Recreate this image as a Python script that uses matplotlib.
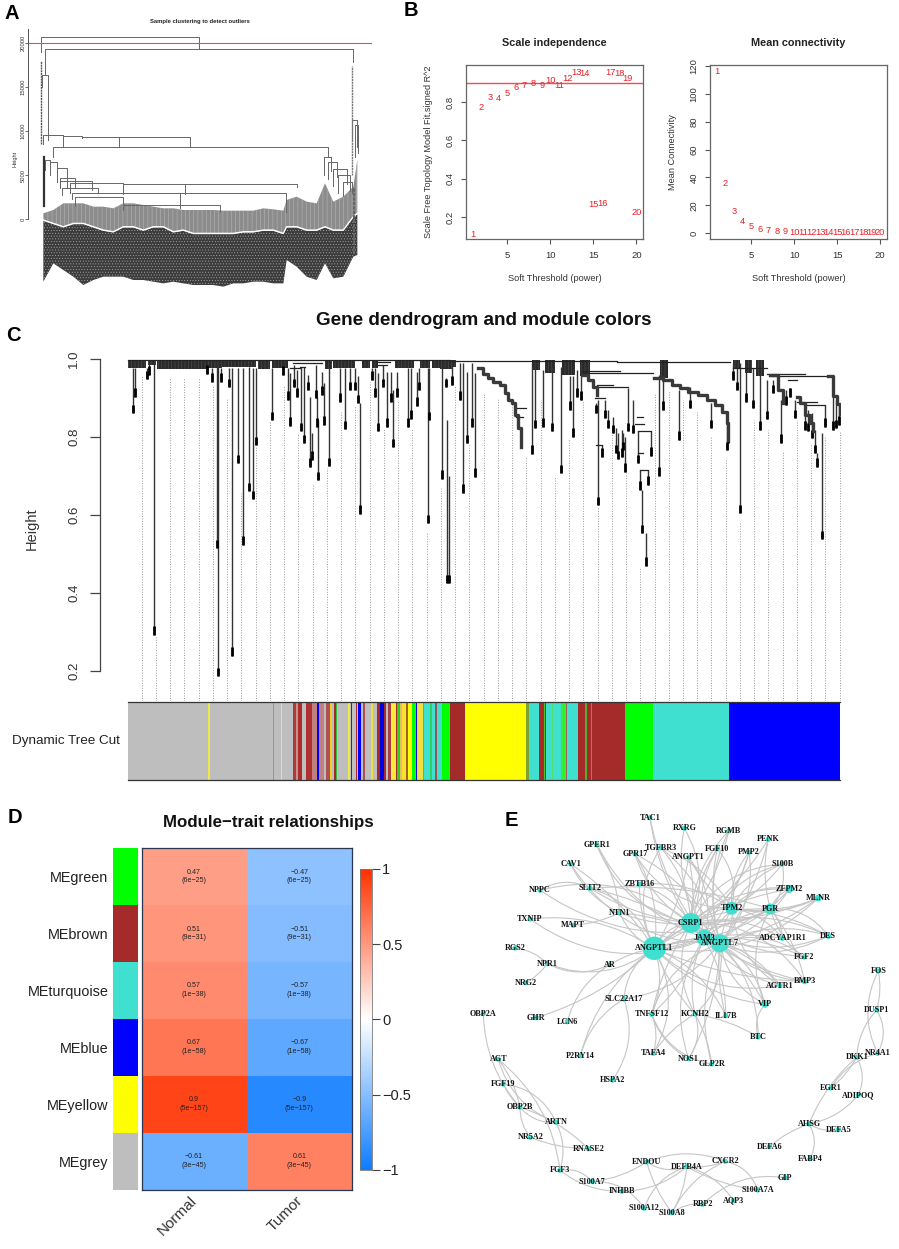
import numpy as np
import matplotlib
matplotlib.use('Agg')
import matplotlib.pyplot as plt
from matplotlib.colors import LinearSegmentedColormap
from matplotlib.cm import ScalarMappable
from matplotlib.colors import Normalize
from matplotlib.patches import FancyArrowPatch

plt.rcParams['font.family'] = ['Liberation Sans', 'DejaVu Sans']
plt.rcParams['hatch.linewidth'] = 0.35

W, H = 899, 1249

# --- A: sample clustering ---
a_merge_x1 = [41, 44.5, 42, 47.5, 43, 63, 82, 119, 53, 324, 45, 50, 57, 60, 60, 70, 123, 185, 62, 72, 180, 75, 123, 352, 355, 328, 333, 338, 343]
a_merge_x2 = [199, 353, 47.5, 63, 63, 82, 119, 190, 328, 331, 50, 57, 67, 75, 92, 123, 185, 297, 98, 180, 286, 123, 220, 357, 358, 337, 347, 350, 352]
a_merge_h = [20680, 19320, 16360, 9545, 9545, 9430, 9320, 9320, 8180, 7045, 6700, 6480, 5800, 4660, 4320, 4090, 4030, 3980, 3520, 2950, 2900, 2500, 1590, 11250, 10700, 6500, 5700, 5000, 4200]
a_merge_bottom1 = [19000, 16360, 15000, 9000, 8500, 9300, 9200, 8200, 7000, 5000, 5600, 5000, 4200, 3500, 3500, 3000, 2800, 2800, 2700, 2300, 1200, 1500, 1000, 9000, 7000, 4500, 3800, 3000, 2600]
a_merge_bottom2 = [19320, 17840, 9545, 8300, 9430, 9320, 9320, 8180, 7045, 5500, 5800, 4600, 3500, 3600, 3300, 4030, 3980, 3600, 3000, 2900, 800, 1590, 800, 8200, 7500, 4800, 4000, 3200, 3000]
a_leaf_x = [130, 160, 190, 220, 250, 280, 310, 340, 370, 400, 430, 460, 490, 520, 550, 580, 610, 640, 670, 700, 730, 760, 790, 820, 850, 860, 890, 920, 950, 975, 1000, 1030, 1060, 1072]
a_grey_top = [640, 630, 610, 610, 610, 620, 620, 625, 610, 610, 615, 620, 625, 625, 630, 630, 630, 630, 632, 632, 632, 632, 625, 628, 632, 600, 590, 605, 610, 550, 605, 590, 560, 480]
a_grey_bottom = [660, 670, 680, 670, 670, 680, 690, 695, 680, 680, 690, 680, 680, 695, 690, 700, 700, 700, 700, 700, 695, 695, 690, 690, 700, 680, 680, 690, 690, 680, 690, 690, 650, 640]
a_dark_bottom = [845, 790, 810, 830, 855, 840, 830, 830, 830, 840, 840, 845, 850, 845, 850, 855, 855, 855, 860, 850, 850, 845, 845, 850, 850, 780, 800, 830, 840, 790, 835, 830, 770, 765]
a_ticks = [0, 5000, 10000, 15000, 20000]

# --- B: soft threshold ---
powers = list(range(1, 21))
sft_r2 = [0.11, 0.77, 0.825, 0.82, 0.845, 0.875, 0.885, 0.895, 0.885, 0.91, 0.885, 0.92, 0.955, 0.95, 0.265, 0.27, 0.955, 0.95, 0.92, 0.225]
mean_k = [116.4, 36, 15.8, 8, 4.7, 2.9, 2, 1.4, 1, 0.7, 0.5, 0.4, 0.3, 0.25, 0.2, 0.15, 0.1, 0.1, 0.1, 0.1]

# --- C: gene dendrogram ---
stem_x = [133.3, 135, 146.7, 149, 154.3, 206.7, 211.7, 216.7, 218.3, 221, 229, 231.7, 238.3, 243, 249.3, 252.7, 256, 271.7, 283.3, 288.3, 290, 294, 296.7, 301, 304.3, 307.7, 310, 311.7, 315.7, 316.7, 318.3, 321.7, 324, 329.3, 340, 345, 350, 355, 358, 360, 371.7, 375, 378.3, 382.7, 386.7, 390.7, 393.3, 396.7, 408.3, 410.7, 416.7, 419.3, 427.7, 429.3, 441.7, 445.7, 447.3, 449.3,
          463.3, 467.3, 460, 475, 471.7, 451.7, 531.7, 535, 542.7, 551.7, 560.7, 573.3, 570, 576.7, 580.7, 598.3, 602, 595.7, 605, 615.7, 618.3, 625, 608.3, 613.3, 621.7, 623.3, 628.3, 633.3, 651, 638.3, 648.3, 640, 641.7, 646, 659.3, 662.7, 679.3, 690, 710.7, 726.7, 728.3, 740, 732.7, 736.7, 746, 752.7, 760, 766.7, 781, 795, 805, 808.3, 811.7, 815, 822.3, 825, 816.7, 833.3, 836, 839.3, 786, 773.3, 790]
stem_top = [.976, .976, .976, .989, .993, .976, .976, .996, .996, .976, .976, .976, .976, .976, .980, .976, .976, .976, .976, .976, .963, .985, .972, .980, .980, .959, .903, .809, .985, .903, .843, .967, .938, .976, .976, .976, .976, .976, .955, .886, .976, .976, .963, .985, .967, .967, .920, .967, .976, .976, .967, .976, .976, .976, .976, .950, .843, .700,
            .989, .967, .989, .963, .989, .989, .989, .980, .972, .980, .980, .955, .955, .972, .967, .895, .779, .886, .895, .822, .809, .801, .869, .852, .818, .809, .925, .895, .814, .814, .715, .715, .664, .553, .959, .959, .920, .929, .886, .835, .831, .989, .989, .989, .985, .976, .963, .946, .895, .895, .878, .869, .861, .818, .809, .882, .758, .903, .895, .886, .920, .946, .925]
stem_bottom = [.861, .903, .948, .959, .292, .962, .942, .514, .186, .942, .927, .238, .732, .523, .660, .640, .778, .843, .959, .895, .828, .927, .903, .814, .784, .920, .724, .741, .899, .826, .689, .908, .831, .725, .890, .820, .920, .920, .886, .602, .946, .903, .814, .927, .826, .890, .773, .903, .826, .846, .880, .920, .578, .843, .692, .927, .424, .424,
               .657, .784, .895, .698, .826, .933, .756, .822, .826, .814, .707, .801, .869, .903, .895, .625, .749, .861, .848, .758, .743, .711, .822, .809, .749, .766, .814, .809, .751, .732, .677, .664, .553, .469, .700, .869, .792, .873, .822, .766, .784, .604, .946, .920, .890, .873, .818, .845, .785, .848, .818, .814, .796, .758, .537, .826, .724, .818, .822, .831, .882, .912, .903]
bracket_x1 = [128.3, 450, 616.7, 733, 766.7, 770, 788, 796.7, 806.7, 581.7, 583.3, 593.3, 596.7, 595, 636.7, 635, 637.7, 640, 637.7, 595.7, 516, 516, 293.3, 300, 313.3, 376.7, 378, 290]
bracket_x2 = [450, 616.7, 730, 766.7, 805, 828.3, 796.7, 816.7, 825, 620, 653.3, 628.3, 613.3, 605, 643.3, 644.3, 651, 648.3, 642.7, 602, 526, 523.3, 311.7, 305, 321.7, 390, 386.7, 300]
bracket_h = [.997, .995, .992, .976, .962, .955, .946, .890, .882, .970, .963, .929, .933, .899, .852, .833, .814, .715, .758, .779, .875, .852, .989, .980, .989, .993, .985, .976]
cascade_x = [[478.3, 483.3, 488.3, 493.3, 500, 505, 508.3, 511.7, 515, 518.3, 521],
             [654, 663.3, 671.7, 680, 688.3, 698.3, 706.7, 715, 721.7, 726.7, 728.3],
             [796.7, 800, 805, 810, 813.3],
             [583.3, 588.3, 593.3, 596.7],
             [770, 778.3, 783.3],
             [828.3, 833, 837, 839.5]]
cascade_h = [[.976, .961, .950, .942, .933, .912, .895, .886, .856, .822, .775],
             [.950, .946, .933, .925, .916, .908, .895, .882, .865, .835, .792],
             [.903, .886, .856, .835, .814],
             [.959, .946, .929, .908],
             [.959, .920, .886],
             [.955, .905, .885, .860]]
fringe_x1 = [128.3, 148, 157, 206, 222, 235, 258, 272, 325, 333, 362, 372, 395, 420, 432, 440, 452, 532, 545, 562, 580, 660, 733, 745, 756]
fringe_x2 = [146, 156, 206, 222, 235, 256, 270, 288, 332, 355, 370, 378, 414, 430, 440, 452, 456, 540, 555, 575, 590, 668, 740, 752, 764]
fringe_h = [.976, .985, .974, .976, .980, .980, .974, .976, .974, .978, .976, .978, .976, .978, .976, .975, .980, .972, .965, .960, .955, .950, .975, .965, .955]
guide_top = [.955, .29, .95, .95, .95, .93, .90, .655, .775, .84, .93, .81, .68, .72, .865, .88, .94, .82, .895, .82, .557, .668, .93, .78, .91, .90, .886, .75, .895, .70, .796, .895, .62, .81, .707, .467, .91, .92, .895, .865, .80, .745, .578, .843, .818, .762, .843, .784, .80, .814]
module_edges = [128, 208.3, 209.7, 272.7, 274.3, 280.7, 282.3, 292.7, 296, 298, 301.7, 306, 312, 317.3, 319.3, 324, 325.5, 330, 332, 334, 335.5, 337, 348.3, 350, 350.7, 352, 355.5, 357, 358.3, 360.7, 363, 364.5, 371, 372.7, 376.7, 380, 384, 385.5, 388, 390.7, 396, 397, 400, 402, 406, 408, 412, 415, 416, 417.3, 423, 424, 430, 432, 435, 437, 442, 450, 465, 526.3, 529, 538.7, 543.7, 544.7, 546, 552, 553, 561.3, 566, 567, 578.3, 585.3, 586.7, 590.7, 592.3, 625.3, 652.7, 729.3, 840.3]
module_colors = ['#BEBEBE', '#F0E84A', '#BEBEBE', '#30DC40', '#BEBEBE', '#F0E84A', '#BEBEBE', '#B03A3A', '#C49090', '#B02A2A', '#BEBEBE', '#AE3030', '#C08080', '#0000FF', '#C08080', '#BEBEBE', '#B05050', '#F0D020', '#BEBEBE', '#A52A2A', '#30C040', '#BEBEBE', '#F0E84A', '#BEBEBE', '#2020F0', '#BEBEBE', '#A52A2A', '#BEBEBE', '#0000FF', '#BEBEBE', '#A85050', '#BEBEBE', '#E8E040', '#BEBEBE', '#A52A2A', '#0000E0', '#A52A2A', '#BEBEBE', '#A84040', '#FFE840', '#A52A2A', '#30D020', '#E0C060', '#FFE030', '#A06030', '#FFFF00', '#00FF00', '#40D0A0', '#0000FF', '#F0E040', '#A09070', '#40E0D0', '#30D060', '#40E0D0', '#A05050', '#40E0D0', '#00FF00', '#A52A2A', '#FFFF00', '#80A030', '#40E0D0', '#A52A2A', '#50C030', '#A52A2A', '#40E0D0', '#50E070', '#40E0D0', '#30F030', '#A86060', '#40E0D0', '#A52A2A', '#50B030', '#A52A2A', '#50B030', '#A52A2A', '#00FF00', '#40E0D0', '#0000FF']

# --- D: module-trait ---
modules = ['MEgreen', 'MEbrown', 'MEturquoise', 'MEblue', 'MEyellow', 'MEgrey']
module_fill = ['#00FF00', '#A52A2A', '#40E0D0', '#0000FF', '#FFFF00', '#BEBEBE']
traits = ['Normal', 'Tumor']
cor_normal = [0.47, 0.51, 0.57, 0.67, 0.9, -0.61]
cor_tumor = [-0.47, -0.51, -0.57, -0.67, -0.9, 0.61]
pvals = ['6e−25', '9e−31', '1e−38', '1e−58', '5e−157', '3e−45']

# --- E: network ---
node_names = ['TAC1', 'RXRG', 'RGMB', 'PENK', 'GPER1', 'TGFBR3', 'FGF10', 'PMP2', 'GPR17', 'ANGPT1', 'CAV1', 'S100B', 'ZBTB16', 'SLIT2', 'NPPC', 'ZFPM2', 'MLNR', 'TPM2', 'PGR', 'NTN1', 'TXNIP', 'MAPT', 'CSRP1', 'DES', 'ADCYAP1R1', 'JAM3', 'ANGPTL7', 'ANGPTL1', 'RGS2', 'NPR1', 'AR', 'FGF2', 'NRG2', 'BMP3', 'AGTR1', 'SLC22A17', 'VIP', 'OBP2A', 'TNFSF12', 'KCNH2', 'IL17B', 'GHR', 'LCN6', 'BTC', 'FOS', 'DUSP1',
              'P2RY14', 'TAFA4', 'NOS1', 'GLP2R', 'HSPA2', 'NR4A1', 'DKK1', 'AGT', 'FGF19', 'EGR1', 'ADIPOQ', 'OBP2B', 'ARTN', 'AHSG', 'DEFA5', 'NR5A2', 'DEFA6', 'RNASE2', 'FABP4', 'ENDOU', 'CXCR2', 'DEFB4A', 'FGF3', 'GIP', 'S100A7', 'S100A7A', 'INHBB', 'AQP3', 'RBP2', 'S100A12', 'S100A8']
node_x = [650, 684.3, 728.7, 768.3, 596.7, 660.7, 717.3, 749, 635, 688.7, 570.7, 782.3, 639.3, 590, 540, 789.3, 818.3, 731.7, 770.3, 619.7, 530, 573.3, 690.7, 828.3, 782.3, 704.3, 720, 654.3, 515, 547.3, 609.7, 804.3, 525.7, 804.7, 780, 624, 765, 483.3, 651.7, 695, 725.7, 536, 567.3, 758.3, 878.3, 876.7,
          580.3, 653.3, 688.7, 711.7, 612.7, 877.7, 856.7, 498.3, 503.3, 831, 858.3, 520, 556, 809, 838.3, 530.3, 769.3, 588.3, 810, 646.7, 725.3, 686.7, 560, 785, 592.3, 757.7, 622, 733.3, 702.7, 644.3, 672]
node_y = [817.7, 828.3, 831, 839.3, 844.7, 847.7, 848.7, 852.3, 854, 857.3, 864, 864, 884.3, 888.3, 890.3, 889, 898, 908.3, 909, 912.7, 919, 925.3, 923, 936, 938.3, 937.7, 943.3, 948.3, 948, 963.7, 964.7, 957, 982.7, 981.3, 985.7, 999, 1004.3, 1013.7, 1014.3, 1014, 1015.7, 1017.7, 1021.7, 1037, 971, 1010,
          1055.7, 1053.3, 1058.7, 1064, 1080, 1053.3, 1057.3, 1059.3, 1084, 1088, 1095, 1107.3, 1122.3, 1124, 1129.7, 1137.3, 1146.7, 1148.7, 1158.7, 1162, 1161.3, 1166.7, 1170.3, 1177.7, 1181.7, 1190, 1191.3, 1200.7, 1204.3, 1208.3, 1212.7]
hub_radius = {'ANGPTL1': 11.7, 'CSRP1': 10, 'JAM3': 8, 'ANGPTL7': 9, 'TPM2': 6.5, 'PGR': 5.5, 'ZFPM2': 4, 'MLNR': 3.5, 'VIP': 3.5, 'DES': 3, 'BMP3': 3}
hub_edges = {
    'ANGPTL1': ['GPR17', 'ZBTB16', 'SLIT2', 'NTN1', 'CAV1', 'CSRP1', 'JAM3', 'ANGPTL7', 'TPM2', 'PGR', 'AR', 'NPR1', 'TXNIP', 'GHR', 'SLC22A17', 'TNFSF12', 'KCNH2', 'TAFA4', 'P2RY14', 'ADCYAP1R1', 'AGTR1', 'FGF2', 'BMP3', 'DES', 'VIP', 'ZFPM2', 'MLNR', 'IL17B', 'ANGPT1', 'TGFBR3', 'RGMB'],
    'CSRP1': ['TAC1', 'RXRG', 'RGMB', 'PENK', 'GPER1', 'TGFBR3', 'FGF10', 'PMP2', 'GPR17', 'ANGPT1', 'S100B', 'ZBTB16', 'SLIT2', 'NPPC', 'ZFPM2', 'MLNR', 'TPM2', 'PGR', 'NTN1', 'DES', 'ADCYAP1R1', 'FGF2', 'BMP3', 'AGTR1', 'VIP', 'KCNH2', 'IL17B', 'TNFSF12'],
    'ANGPTL7': ['RXRG', 'TGFBR3', 'FGF10', 'PMP2', 'RGMB', 'PENK', 'S100B', 'ZFPM2', 'PGR', 'TPM2', 'DES', 'MLNR', 'FGF2', 'BMP3', 'AGTR1', 'VIP', 'BTC', 'IL17B', 'KCNH2', 'GLP2R', 'NOS1', 'TNFSF12', 'SLC22A17', 'NTN1', 'CAV1', 'GPR17'],
    'JAM3': ['TAC1', 'ANGPT1', 'FGF10', 'PMP2', 'S100B', 'ZFPM2', 'PGR', 'DES', 'AGTR1', 'BMP3', 'VIP', 'KCNH2', 'TNFSF12', 'NOS1', 'GPER1', 'SLIT2', 'TXNIP'],
    'TPM2': ['TGFBR3', 'ANGPT1', 'FGF10', 'PMP2', 'PGR', 'ZFPM2', 'MLNR', 'DES', 'AGTR1', 'ADCYAP1R1', 'S100B', 'GPR17', 'ZBTB16'],
    'PGR': ['PENK', 'S100B', 'ZFPM2', 'MLNR', 'DES', 'FGF2', 'BMP3', 'VIP', 'ADCYAP1R1', 'SLIT2', 'NPPC'],
}
other_edges = [('NPR1', 'RGS2'), ('NPR1', 'NRG2'), ('NPR1', 'AR'), ('LCN6', 'AR'), ('MAPT', 'NTN1'), ('NPPC', 'SLIT2'), ('CAV1', 'NTN1'), ('GPER1', 'NTN1'),
               ('HSPA2', 'SLC22A17'), ('P2RY14', 'SLC22A17'), ('BTC', 'KCNH2'), ('BTC', 'VIP'), ('TAFA4', 'TNFSF12'), ('TAFA4', 'KCNH2'), ('NOS1', 'KCNH2'), ('NOS1', 'TNFSF12'), ('GLP2R', 'KCNH2'), ('GLP2R', 'TNFSF12'),
               ('OBP2A', 'OBP2B'), ('AGT', 'OBP2B'), ('AGT', 'ARTN'), ('AGT', 'FGF3'), ('FGF19', 'OBP2B'), ('FGF19', 'ARTN'), ('OBP2B', 'NR5A2'), ('OBP2B', 'RNASE2'), ('OBP2B', 'ARTN'), ('ARTN', 'FGF3'), ('NR5A2', 'RNASE2'), ('FGF3', 'S100A7'), ('FGF3', 'INHBB'),
               ('ENDOU', 'S100A7'), ('ENDOU', 'DEFB4A'), ('ENDOU', 'CXCR2'), ('ENDOU', 'S100A8'), ('S100A7', 'S100A12'), ('INHBB', 'DEFB4A'), ('DEFB4A', 'S100A8'), ('DEFB4A', 'S100A12'), ('DEFB4A', 'AQP3'), ('DEFB4A', 'S100A7A'), ('CXCR2', 'S100A7A'), ('CXCR2', 'S100A8'), ('CXCR2', 'DEFB4A'), ('GIP', 'RBP2'), ('S100A8', 'RBP2'),
               ('AHSG', 'DEFA6'), ('AHSG', 'FABP4'), ('AHSG', 'ADIPOQ'), ('AHSG', 'DKK1'), ('ADIPOQ', 'DKK1'), ('EGR1', 'NR4A1'), ('EGR1', 'DKK1'), ('DUSP1', 'NR4A1'), ('DUSP1', 'DKK1'), ('FOS', 'DUSP1'), ('FOS', 'NR4A1'), ('DEFA5', 'AHSG')]
edge_curves = [0.18, -0.12, 0.25, -0.2, 0.1, -0.28]


def panel(left, top, right, bottom):
    # 用像素位置放子图
    return fig.add_axes([left / W, 1 - bottom / H, (right - left) / W, (bottom - top) / H])


def hide_spines(ax, names=('top', 'right', 'bottom')):
    for name in names:
        ax.spines[name].set_visible(False)


fig = plt.figure(figsize=(W / 100, H / 100), dpi=100)
bg = fig.add_axes([0, 0, 1, 1])
bg.set_xlim(0, W)
bg.set_ylim(H, 0)
bg.axis('off')
for letter, x, y in [('A', 12, 13), ('B', 411, 10), ('C', 13, 335), ('D', 15, 817), ('E', 511, 820)]:
    bg.text(x, y, letter, fontsize=14.5, fontweight='bold', ha='center', va='center', color='black')

# ===== A =====
ax = panel(28.3, 28, 372, 290)
ax.set_xlim(28.3, 372)
ax.set_ylim(-8068, 21705)
ax.patch.set_alpha(0)
hide_spines(ax)
ax.set_xticks([])
ax.spines['left'].set_bounds(0, 21600)
ax.spines['left'].set_color('#555555')
ax.spines['left'].set_linewidth(0.7)
ax.set_yticks(a_ticks)
ax.set_yticklabels([str(t) for t in a_ticks], rotation=90, va='center', fontsize=4.2, color='#333333')
ax.tick_params(axis='y', length=2, width=0.6, color='#555555', pad=0)
ax.set_ylabel('Height', fontsize=4, color='#333333', labelpad=2)
ax.set_title('Sample clustering to detect outliers', fontsize=4.25, fontweight='bold', pad=3.5, x=0.498, color='#222222')
leaf_px = np.array(a_leaf_x) / 3
to_height = lambda z: (657 - np.array(z)) * 37.88
ax.fill_between(leaf_px, to_height(a_grey_bottom) - 100, to_height(a_dark_bottom), facecolor='#3c3c3c', edgecolor='#a8a8a8', hatch='......', linewidth=0)
ax.fill_between(leaf_px, to_height(a_grey_top), to_height(a_grey_bottom), facecolor='#8c8c8c', edgecolor='#bbbbbb', hatch='||||', linewidth=0)
ax.plot(leaf_px, to_height(a_grey_bottom), color='white', lw=0.9)
for x1, x2, h, b1, b2 in zip(a_merge_x1, a_merge_x2, a_merge_h, a_merge_bottom1, a_merge_bottom2):
    ax.plot([x1, x1, x2, x2], [b1, h, h, b2], color='#666666', lw=0.7)
ax.plot([41, 41], [8500, 18000], color='#555555', lw=1.0, ls=(0, (1.5, 0.5)))
ax.plot([352, 352], [5000, 17400], color='#777777', lw=1.0, ls=(0, (1.5, 0.5)))
ax.plot([44, 44], [1500, 7000], color='#333333', lw=1.6)
ax.plot([354, 354], [-4000, 3500], color='#666666', lw=1.6, ls=(0, (1.5, 0.5)))
ax.axhline(20000, color='#E0505A', lw=0.8)

# ===== B =====
for left, right, title, ylabel, yvals, ylim, yticks in [
        (466.3, 643, 'Scale independence', 'Scale Free Topology Model Fit,signed R^2', sft_r2, (0.085, 0.993), [0.2, 0.4, 0.6, 0.8]),
        (710.3, 886.7, 'Mean connectivity', 'Mean Connectivity', mean_k, (-4.3, 121), [0, 20, 40, 60, 80, 100, 120])]:
    ax = panel(left, 65, right, 239)
    ax.set_xlim(0.24, 20.76)
    ax.set_ylim(*ylim)
    for p, v in zip(powers, yvals):
        ax.text(p, v, str(p), color='#E8202A', fontsize=6.7, ha='center', va='center')
    if ylim[1] < 2:
        ax.axhline(0.9, color='#E8505A', lw=1)
    ax.set_xticks([5, 10, 15, 20])
    ax.set_yticks(yticks)
    ax.set_yticklabels([str(t) for t in yticks], rotation=90, va='center')
    ax.tick_params(length=3.6, width=0.8, color='#555555', labelsize=6.8, labelcolor='#333333', pad=5)
    for s in ax.spines.values():
        s.set_color('#666666')
        s.set_linewidth(0.9)
    cx = (left + right) / 2
    bg.text(cx, 43, title, fontsize=7.8, fontweight='bold', ha='center', va='center', color='#222222')
    bg.text(cx, 278, 'Soft Threshold (power)', fontsize=6.6, ha='center', va='center', color='#333333')
    bg.text(left - 37.5, 152, ylabel, fontsize=6.6, rotation=90, ha='center', va='center', color='#333333')

# ===== C =====
ax = panel(100.3, 357, 841, 701)
ax.set_xlim(100.3, 841)
ax.set_ylim(0.1224, 1.005)
ax.patch.set_alpha(0)
hide_spines(ax)
ax.set_xticks([])
ax.spines['left'].set_bounds(0.2, 1.0)
ax.spines['left'].set_color('#444444')
ax.spines['left'].set_linewidth(0.9)
ax.set_yticks([0.2, 0.4, 0.6, 0.8, 1.0])
ax.set_yticklabels(['0.2', '0.4', '0.6', '0.8', '1.0'], rotation=90, va='center', fontsize=9.5, color='#333333')
ax.tick_params(axis='y', length=7.5, width=0.9, color='#444444', pad=7)
ax.set_ylabel('Height', fontsize=10.5, color='#333333', labelpad=21)
guide_x = np.linspace(141.7, 839.7, len(guide_top))
ax.vlines(guide_x, 0.1224, guide_top, color='#999999', lw=0.7, linestyles=(0, (1, 1.6)))
for x1, x2, h in zip(fringe_x1, fringe_x2, fringe_h):
    ax.fill_between([x1, x2], h, 0.997, facecolor='#2a2a2a', edgecolor='#555555', hatch='|||||', linewidth=0)
ax.vlines(stem_x, stem_bottom, stem_top, color='#333333', lw=1.0)
tip_len = 0.022
ax.vlines(stem_x, stem_bottom, np.array(stem_bottom) + tip_len, color='black', lw=2.0)
for x1, x2, h in zip(bracket_x1, bracket_x2, bracket_h):
    ax.plot([x1, x2], [h, h], color='#222222', lw=0.9)
for xs, hs in zip(cascade_x, cascade_h):
    ax.plot(xs, hs, color='#3a3a3a', lw=2.4, drawstyle='steps-post')
bg.text(483.5, 320.5, 'Gene dendrogram and module colors', fontsize=13.6, fontweight='bold', ha='center', va='center', color='#111111')
bg.text(120, 741, 'Dynamic Tree Cut', fontsize=9.7, ha='right', va='center', color='#222222')
ax = panel(128, 702, 840.3, 780)
ax.set_xlim(128, 840.3)
ax.set_ylim(0, 1)
ax.broken_barh([(a, b - a) for a, b in zip(module_edges[:-1], module_edges[1:])], (0, 1), facecolors=module_colors, linewidth=0, antialiased=False)
ax.set_xticks([])
ax.set_yticks([])
for name in ('left', 'right'):
    ax.spines[name].set_visible(False)
for name in ('top', 'bottom'):
    ax.spines[name].set_color('#333333')
    ax.spines[name].set_linewidth(0.9)

# ===== D =====
cmap = LinearSegmentedColormap.from_list('bwr_me', ['#0F7DFF', '#FFFFFF', '#FF3200'])
ax = panel(141.5, 847.7, 352, 1189.5)
values = np.column_stack([cor_normal, cor_tumor])
ax.pcolormesh(np.arange(3), np.arange(7), values, cmap=cmap, vmin=-1, vmax=1)
ax.set_xlim(0, 2)
ax.set_ylim(6, 0)
for i, pv in enumerate(pvals):
    for j in range(2):
        txt = f'{values[i, j]:g}'.replace('-', '−')
        ax.text(j + 0.5, i + 0.5, f'{txt}\n({pv})', fontsize=5.1, ha='center', va='center', color='#222222', linespacing=1.25)
ax.set_yticks([])
ax.set_xticks([])
for label, x, y in zip(traits, [177, 285], [1216, 1214]):
    bg.text(x, y, label, rotation=45, fontsize=11, ha='center', va='center', color='#333333')
for s in ax.spines.values():
    s.set_color('#2a3550')
    s.set_linewidth(0.9)
strip = panel(113, 847.7, 138, 1189.5)
strip.barh(np.arange(6) + 0.5, 1, height=1, color=module_fill)
strip.set_xlim(0, 1)
strip.set_ylim(6, 0)
strip.set_xticks([])
strip.set_yticks(np.arange(6) + 0.5)
strip.set_yticklabels(modules, fontsize=10.4, color='#222222')
strip.tick_params(axis='y', length=0, pad=3.2)
for s in strip.spines.values():
    s.set_visible(False)
bg.text(268, 822, 'Module−trait relationships', fontsize=12.2, fontweight='bold', ha='center', va='center', color='#111111')
cax = panel(359.5, 869, 371.5, 1169.7)
cb = fig.colorbar(ScalarMappable(Normalize(-1, 1), cmap), cax=cax)
cb.set_ticks([-1, -0.5, 0, 0.5, 1])
cb.set_ticklabels(['−1', '−0.5', '0', '0.5', '1'])
cb.ax.tick_params(length=5.5, width=0.8, color='#444444', labelsize=10.5, labelcolor='#222222', pad=2)
cb.outline.set_edgecolor('#777777')
cb.outline.set_linewidth(0.6)

# ===== E =====
ax = panel(460, 800, 899, 1249)
ax.set_xlim(460, 899)
ax.set_ylim(1249, 800)
ax.axis('off')
ax.patch.set_alpha(0)
pos = {n: (x, y) for n, x, y in zip(node_names, node_x, node_y)}
edge_pairs = [(hub, t) for hub, targets in hub_edges.items() for t in targets] + other_edges
for k, (a, b) in enumerate(edge_pairs):
    ax.add_patch(FancyArrowPatch(pos[a], pos[b], arrowstyle='-', mutation_scale=1, shrinkA=0, shrinkB=0,
                                 connectionstyle=f'arc3,rad={edge_curves[k % len(edge_curves)]}', color='#c6c6c6', lw=0.8, zorder=1))
radius = [hub_radius.get(n, 2.6) for n in node_names]
ax.scatter(node_x, node_y, s=[(2 * r * 0.72) ** 2 for r in radius], color='#40E0D0', linewidths=0, zorder=2)
for n, x, y in zip(node_names, node_x, node_y):
    ax.text(x, y, n, fontsize=5.9, fontweight='bold', family='Liberation Serif', ha='center', va='center', color='#111111', zorder=3)

fig.savefig('out.png', dpi=100)
